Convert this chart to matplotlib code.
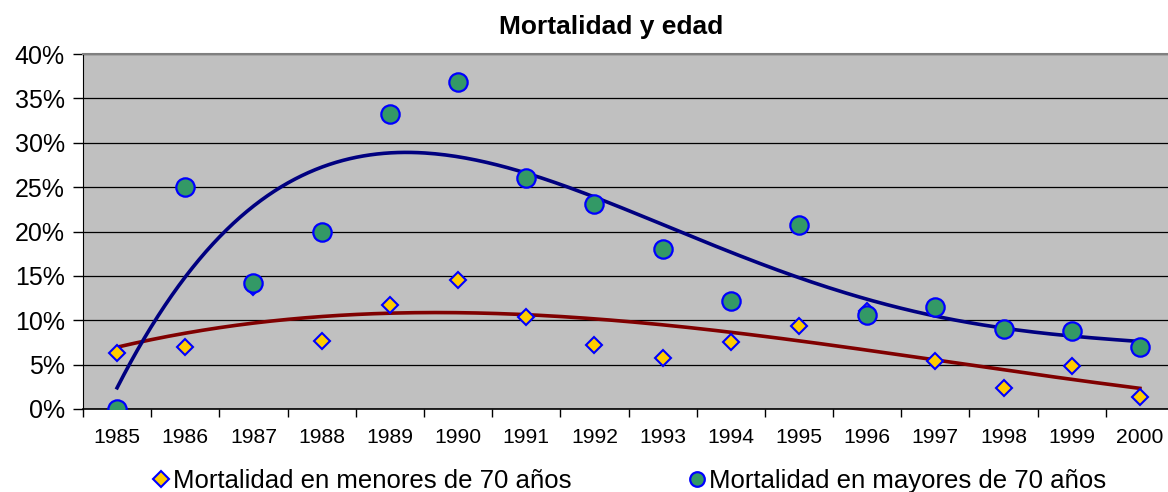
import numpy as np
import matplotlib.pyplot as plt
from matplotlib.lines import Line2D
from matplotlib.ticker import FixedLocator, PercentFormatter

plt.rcParams['font.family'] = ['Liberation Sans', 'DejaVu Sans']

# datos por año (%)
anios = [str(a) for a in range(1985, 2001)]
menores_70 = [6.3, 7.0, 13.8, 7.7, 11.7, 14.5, 10.4, 7.2, 5.8, 7.5, 9.3, 11.0, 5.4, 2.4, 4.8, 1.3]
mayores_70 = [0.0, 25.0, 14.2, 20.0, 33.2, 36.8, 26.0, 23.1, 18.0, 12.2, 20.7, 10.6, 11.5, 9.05, 8.8, 7.0]

x = np.arange(len(anios))
xs = np.linspace(0, len(anios) - 1, 300)

fig = plt.figure(figsize=(11.68, 4.92), dpi=100)
ax = fig.add_axes([83 / 1168, 83 / 492, 1091 / 1168, 355 / 492])
ax.set_facecolor('#C0C0C0')

# lineas de tendencia polinómica
p_may = np.polyfit(x, mayores_70, 4)
p_men = np.polyfit(x, menores_70, 3)
ax.plot(xs, np.polyval(p_men, xs), color='#800000', lw=2.6, zorder=3)
ax.plot(xs, np.polyval(p_may, xs), color='#000080', lw=2.6, zorder=3)

ax.plot(x, menores_70, ls='none', marker='D', ms=8.6, mfc='#FFCC00', mec='#0000FF', mew=1.5, zorder=4)
ax.plot(x, mayores_70, ls='none', marker='o', ms=13.2, mfc='#339966', mec='#0000FF', mew=1.6, zorder=5)

ax.set_ylim(0, 40)
ax.set_xlim(-0.5, len(anios) - 0.5)
ax.set_yticks(np.arange(0, 41, 5))
ax.yaxis.set_major_formatter(PercentFormatter(decimals=0))
ax.grid(axis='y', color='black', lw=0.9)
ax.set_axisbelow(True)

ax.xaxis.set_major_locator(FixedLocator(np.arange(-0.5, len(anios), 1)))
ax.xaxis.set_minor_locator(FixedLocator(x))
ax.set_xticklabels([])
ax.set_xticklabels(anios, minor=True)
ax.tick_params(axis='x', which='major', length=6, width=1, color='black')
ax.tick_params(axis='x', which='minor', length=0, pad=14, labelsize=15.2)
ax.tick_params(axis='y', length=7, width=1, pad=6, labelsize=18)

for s in ['top', 'right']:
    ax.spines[s].set_color('#808080')
    ax.spines[s].set_linewidth(1.5)
ax.spines['left'].set_color('black')
ax.spines['bottom'].set_color('black')
ax.spines['bottom'].set_linewidth(1.2)

fig.text(611 / 1168, 1 - 27 / 492, 'Mortalidad y edad', ha='center', va='center',
         fontsize=19, fontweight='bold')

handles = [
    Line2D([], [], ls='none', marker='D', ms=8.6, mfc='#FFCC00', mec='#0000FF', mew=1.5),
    Line2D([], [], ls='none', marker='o', ms=10.5, mfc='#339966', mec='#0000FF', mew=1.6),
]
fig.legend(handles, ['Mortalidad en menores de 70 años', 'Mortalidad en mayores de 70 años'],
           loc='center', bbox_to_anchor=(630 / 1168, 1 - 481 / 492), ncol=2, frameon=False,
           fontsize=18.5, handlelength=0.55, handletextpad=0.2, columnspacing=4.6)

fig.savefig('out.png')
